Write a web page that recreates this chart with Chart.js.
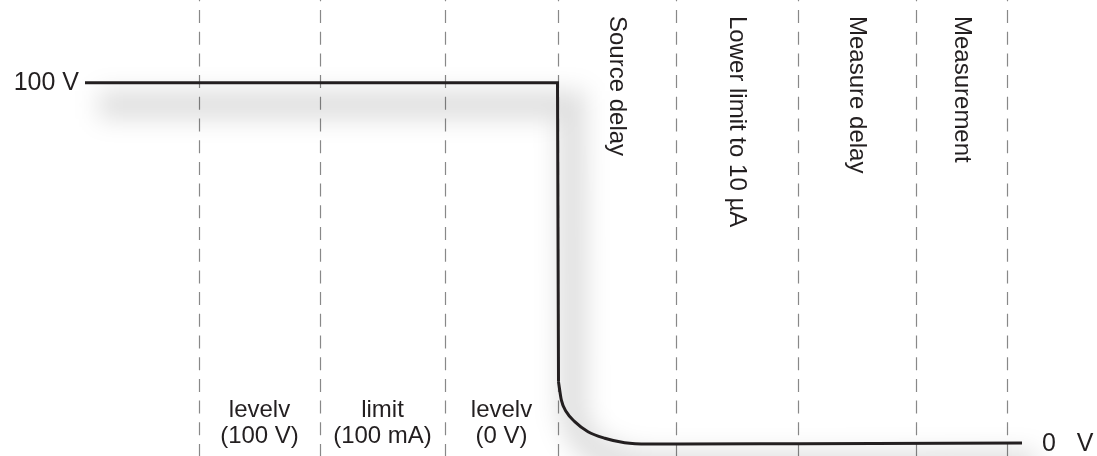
<!DOCTYPE html>
<html>
<head>
<meta charset="utf-8">
<script src="https://cdn.jsdelivr.net/npm/chart.js@4.4.1/dist/chart.umd.min.js"></script>
<style>
    html, body { margin: 0; padding: 0; background: #ffffff; }
    #wrap { width: 1097px; height: 456px; position: relative; }
</style>
</head>
<body>
<div id="wrap"><canvas id="sweep-chart"></canvas></div>
<script>
// Source output sweep: 100 V -> 0 V (time axis in arbitrary units)

// Output waveform
// step part (sharp corner at the top)
const stepTime  = [85, 557.5, 558.5];
const stepVolts = [100, 100, 17.2];
// decay part (smooth), starts where the step ends
const decayTime  = [558.5, 561.3, 566.3, 574.7, 588, 604.7, 624.7, 648, 680, 800, 1022];
const decayVolts = [17.2, 12.2, 8.9, 6.2, 3.4, 1.6, 0.36, 0, 0, 0.1, 0.3];

// Phase boundaries (dashed lines)
const phaseBounds = [199, 320, 445, 558, 676, 798, 916, 1007];

// Phase labels: horizontal ones at the bottom, rotated ones at the top
const bottomLabels = [['levelv', '(100 V)'], ['limit', '(100 mA)'], ['levelv', '(0 V)']];
const topLabels = ['Source delay', 'Lower limit to 10 µA', 'Measure delay', 'Measurement'];

// Level labels
const levelLabels = [{ text: '100 V', volts: 100, side: 'left' }, { text: '0   V', volts: 0, side: 'right' }];

// Axis ranges
const timeRange = [0, 1097];
const voltRange = [-3.32, 122.89];

const inkColor = '#231f20';
const dashColor = '#888888';
const fontFamily = '"Liberation Sans", Arial, Helvetica, sans-serif';

const toPoints = (xs, ys) => xs.map((t, i) => ({ x: t, y: ys[i] }));
const stepPoints = toPoints(stepTime, stepVolts);
const decayPoints = toPoints(decayTime, decayVolts);
const allPoints = stepPoints.concat(decayPoints.slice(1));

// dashed phase lines, drawn behind the waveform
const phaseLinesPlugin = {
    id: 'phaseLines',
    beforeDatasetsDraw(chart) {
        const ctx = chart.ctx;
        const xs = chart.scales.x;
        const h = chart.height;
        ctx.save();
        ctx.strokeStyle = dashColor;
        ctx.lineWidth = 1.2;
        ctx.setLineDash([13, 8.7]);
        ctx.lineDashOffset = 11.7;
        phaseBounds.forEach(b => {
            const px = Math.round(xs.getPixelForValue(b)) + 0.5;
            ctx.beginPath();
            ctx.moveTo(px, 0);
            ctx.lineTo(px, h);
            ctx.stroke();
        });
        ctx.restore();
    }
};

// soft drop shadow for the shadow dataset
const shadowPlugin = {
    id: 'softShadow',
    beforeDatasetDraw(chart, args) {
        const ds = chart.data.datasets[args.index];
        if (!ds.isShadow) return;
        const ctx = chart.ctx;
        ctx.save();
        ctx.filter = 'blur(12px)';
        ctx.translate(14, 22);
    },
    afterDatasetDraw(chart, args) {
        const ds = chart.data.datasets[args.index];
        if (!ds.isShadow) return;
        chart.ctx.restore();
    }
};

// all text labels
const labelsPlugin = {
    id: 'phaseLabels',
    afterDatasetsDraw(chart) {
        const ctx = chart.ctx;
        const xs = chart.scales.x;
        const ys = chart.scales.y;
        const bottom = chart.height;
        ctx.save();
        ctx.fillStyle = inkColor;
        ctx.font = '24px ' + fontFamily;

        // bottom phase labels
        ctx.textAlign = 'center';
        ctx.textBaseline = 'alphabetic';
        bottomLabels.forEach((lines, i) => {
            const cx = (xs.getPixelForValue(phaseBounds[i]) + xs.getPixelForValue(phaseBounds[i + 1])) / 2;
            ctx.fillText(lines[0], cx, bottom - 39);
            ctx.fillText(lines[1], cx, bottom - 13);
        });

        // rotated phase labels
        topLabels.forEach((txt, i) => {
            const j = i + 3;
            const cx = (xs.getPixelForValue(phaseBounds[j]) + xs.getPixelForValue(phaseBounds[j + 1])) / 2;
            ctx.save();
            ctx.translate(cx, 16);
            ctx.rotate(Math.PI / 2);
            ctx.textAlign = 'left';
            ctx.textBaseline = 'middle';
            ctx.fillText(txt, 0, 0);
            ctx.restore();
        });

        // level labels at both line ends
        ctx.font = '25px ' + fontFamily;
        ctx.textBaseline = 'middle';
        levelLabels.forEach(l => {
            const py = ys.getPixelForValue(l.volts);
            if (l.side === 'left') {
                ctx.textAlign = 'right';
                ctx.fillText(l.text, xs.getPixelForValue(stepTime[0]) - 6, py);
            } else {
                ctx.textAlign = 'left';
                ctx.fillText(l.text, xs.getPixelForValue(decayTime[decayTime.length - 1]) + 20, py);
            }
        });
        ctx.restore();
    }
};

const lineStyle = {
    borderColor: inkColor,
    borderWidth: 3,
    pointRadius: 0,
    fill: false,
    borderCapStyle: 'butt',
    borderJoinStyle: 'miter',
    order: 1
};

new Chart(document.getElementById('sweep-chart').getContext('2d'), {
    type: 'line',
    data: {
        datasets: [
            Object.assign({ label: 'Output step', data: stepPoints, tension: 0 }, lineStyle),
            Object.assign({ label: 'Output decay', data: decayPoints, cubicInterpolationMode: 'monotone' }, lineStyle),
            {
                label: 'shadow',
                isShadow: true,
                data: allPoints,
                borderColor: 'rgba(0, 0, 0, 0.13)',
                borderWidth: 28,
                pointRadius: 0,
                fill: false,
                cubicInterpolationMode: 'monotone',
                order: 2
            }
        ]
    },
    options: {
        responsive: true,
        maintainAspectRatio: false,
        animation: false,
        layout: { padding: 0 },
        scales: {
            x: { type: 'linear', display: false, min: timeRange[0], max: timeRange[1] },
            y: { type: 'linear', display: false, min: voltRange[0], max: voltRange[1] }
        },
        plugins: {
            legend: { display: false },
            tooltip: { enabled: false }
        }
    },
    plugins: [phaseLinesPlugin, shadowPlugin, labelsPlugin]
});
</script>
</body>
</html>
